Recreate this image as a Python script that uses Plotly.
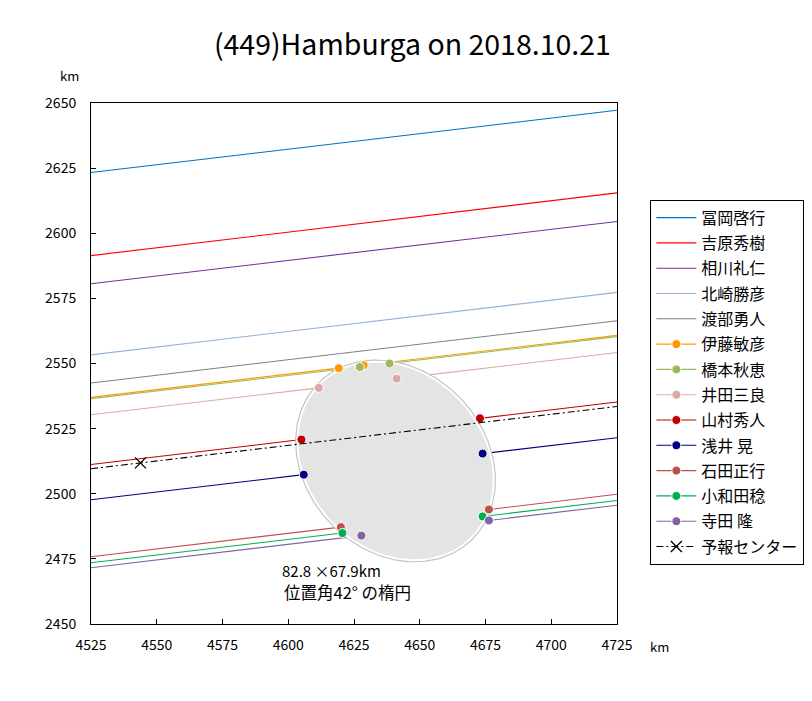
import numpy as np
import plotly.graph_objects as go

FONT = "Noto Sans CJK JP"

# ---------------- data ----------------
observers = ["冨岡啓行", "吉原秀樹", "相川礼仁", "北崎勝彦", "渡部勇人", "伊藤敏彦", "橋本秋恵",
             "井田三良", "山村秀人", "浅井 晃", "石田正行", "小和田稔", "寺田 隆"]
colors = ["#0070C0", "#FF0000", "#7030A0", "#95B3D7", "#808080", "#FF9900", "#9BBB59",
          "#DDA8A8", "#C00000", "#000080", "#C0504D", "#00B050", "#8064A2"]
# chord line y (km) at the left (x=4525) and right (x=4725) edges
y_left = [2623.3, 2591.4, 2580.6, 2553.3, 2542.5, 2537.0, 2536.5, 2530.3, 2511.2, 2497.7, 2475.8, 2473.5, 2471.6]
y_right = [2647.2, 2615.5, 2604.5, 2577.3, 2566.4, 2560.8, 2560.3, 2554.2, 2535.2, 2521.5, 2499.8, 2497.4, 2495.6]
# disappearance / reappearance x (km); None = no event
d_x = [None, None, None, None, None, 4619.2, 4627.2, 4611.6, 4605.0, 4605.9, 4620.0, 4620.6, 4627.8]
r_x = [None, None, None, None, None, 4628.7, 4638.5, 4641.2, 4672.9, 4673.9, 4676.3, 4673.9, 4676.3]

center_name = "予報センター"
center_y_left = 2509.6
center_y_right = 2533.5
center_mark_x = 4543.8

ellipse_center = (4640.8, 2512.6)
ellipse_axes_km = (82.8, 67.9)
ellipse_tilt_deg = 132.0

x_range = [4525, 4725]
y_range = [2450, 2650]
x_ticks = [4525, 4550, 4575, 4600, 4625, 4650, 4675, 4700, 4725]
y_ticks = [2450, 2475, 2500, 2525, 2550, 2575, 2600, 2625, 2650]

title_text = "(449)Hamburga on 2018.10.21"
size_text = "82.8 ×67.9km"
pa_text = "位置角42° の楕円"


def line_y(yl, yr, x):
    return yl + (yr - yl) * (x - x_range[0]) / (x_range[1] - x_range[0])


fig = go.Figure()

# observer chord lines (split at events)
for i, name in enumerate(observers):
    if d_x[i] is None:
        xs = [x_range[0], x_range[1]]
        ys = [y_left[i], y_right[i]]
    else:
        xs = [x_range[0], d_x[i], None, r_x[i], x_range[1]]
        ys = [y_left[i], line_y(y_left[i], y_right[i], d_x[i]), None,
              line_y(y_left[i], y_right[i], r_x[i]), y_right[i]]
    fig.add_trace(go.Scatter(x=xs, y=ys, mode="lines",
                             line=dict(color=colors[i], width=1.1),
                             name=name, legendgroup=name,
                             showlegend=(d_x[i] is None), hoverinfo="skip"))

# ellipse
a, b = ellipse_axes_km[0] / 2, ellipse_axes_km[1] / 2
th = np.deg2rad(ellipse_tilt_deg)
t = np.linspace(0, 2 * np.pi, 241)
ex = ellipse_center[0] + a * np.cos(t) * np.cos(th) - b * np.sin(t) * np.sin(th)
ey = ellipse_center[1] + a * np.cos(t) * np.sin(th) + b * np.sin(t) * np.cos(th)
fig.add_trace(go.Scatter(x=ex, y=ey, mode="lines", fill="toself", fillcolor="#E3E4E3",
                         line=dict(color="#FFFFFF", width=2.5), showlegend=False, hoverinfo="skip"))
a2, b2 = a + 0.5, b + 0.5
ex2 = ellipse_center[0] + a2 * np.cos(t) * np.cos(th) - b2 * np.sin(t) * np.sin(th)
ey2 = ellipse_center[1] + a2 * np.cos(t) * np.sin(th) + b2 * np.sin(t) * np.cos(th)
fig.add_trace(go.Scatter(x=ex2, y=ey2, mode="lines",
                         line=dict(color="#C4C4C4", width=1.2), showlegend=False, hoverinfo="skip"))

# event markers
for i, name in enumerate(observers):
    if d_x[i] is None:
        continue
    xs = [d_x[i], None, r_x[i]]
    ys = [line_y(y_left[i], y_right[i], d_x[i]), None, line_y(y_left[i], y_right[i], r_x[i])]
    fig.add_trace(go.Scatter(x=xs, y=ys, mode="lines+markers",
                             line=dict(color=colors[i], width=1.1),
                             marker=dict(color=colors[i], size=9, line=dict(color="white", width=1)),
                             name=name, legendgroup=name, showlegend=True, hoverinfo="skip"))

# prediction center line
fig.add_trace(go.Scatter(x=[x_range[0], x_range[1]], y=[center_y_left, center_y_right], mode="lines",
                         line=dict(color="#000000", width=1.1, dash="7px,3px,2px,3px"),
                         legendgroup=center_name, showlegend=False, hoverinfo="skip"))
fig.add_trace(go.Scatter(x=[center_mark_x], y=[line_y(center_y_left, center_y_right, center_mark_x)],
                         mode="lines+markers", name=center_name, legendgroup=center_name,
                         line=dict(color="#000000", width=1.1, dash="7px,3px,2px,3px"),
                         marker=dict(symbol="x-thin", size=11, color="black",
                                     line=dict(color="black", width=1.3)),
                         hoverinfo="skip"))

# order legend entries as in the reference
for tr in fig.data:
    if tr.showlegend is not False and tr.name in observers:
        tr.legendrank = observers.index(tr.name)
    elif tr.name == center_name:
        tr.legendrank = 100

axis_common = dict(showgrid=False, zeroline=False, showline=True, mirror=True,
                   linecolor="black", linewidth=1, ticks="inside", ticklen=5,
                   tickcolor="black", tickwidth=1,
                   tickfont=dict(family=FONT, size=14, color="black"))

# note: the page body has an 8px margin, margins below compensate for it
fig.update_layout(
    width=812, height=701,
    margin=dict(l=83, r=203, t=95, b=85),
    paper_bgcolor="white", plot_bgcolor="white",
    title=dict(text=title_text, x=0.498, xref="container", xanchor="center",
               y=1 - 37 / 701, yref="container", yanchor="middle",
               font=dict(family=FONT, size=28.5, color="black")),
    xaxis=dict(range=x_range, tickvals=x_ticks, ticktext=[str(v) for v in x_ticks],
               ticklabelstandoff=8, **axis_common),
    yaxis=dict(range=y_range, tickvals=y_ticks, ticktext=[str(v) for v in y_ticks],
               ticklabelstandoff=11, **axis_common),
    legend=dict(x=1.0634, y=0.8144, xanchor="left", yanchor="top",
                bordercolor="black", borderwidth=1, bgcolor="white",
                font=dict(family=FONT, size=16, color="black"),
                tracegroupgap=1.5, itemwidth=40),
    showlegend=True,
    annotations=[
        dict(text="km", xref="paper", yref="paper", x=-0.040, y=1.0537, showarrow=False,
             xanchor="center", yanchor="middle",
             font=dict(family=FONT, size=13, color="black")),
        dict(text="km", xref="paper", yref="paper", x=1.0817, y=-0.0441, showarrow=False,
             xanchor="center", yanchor="middle",
             font=dict(family=FONT, size=13, color="black")),
        dict(text=size_text, x=4596.7, y=2470.5, xanchor="left", yanchor="middle", showarrow=False,
             font=dict(family=FONT, size=15, color="black")),
        dict(text=pa_text, x=4597.5, y=2462.4, xanchor="left", yanchor="middle", showarrow=False,
             font=dict(family=FONT, size=16.5, color="black")),
    ],
)

fig.write_html("out.html")
